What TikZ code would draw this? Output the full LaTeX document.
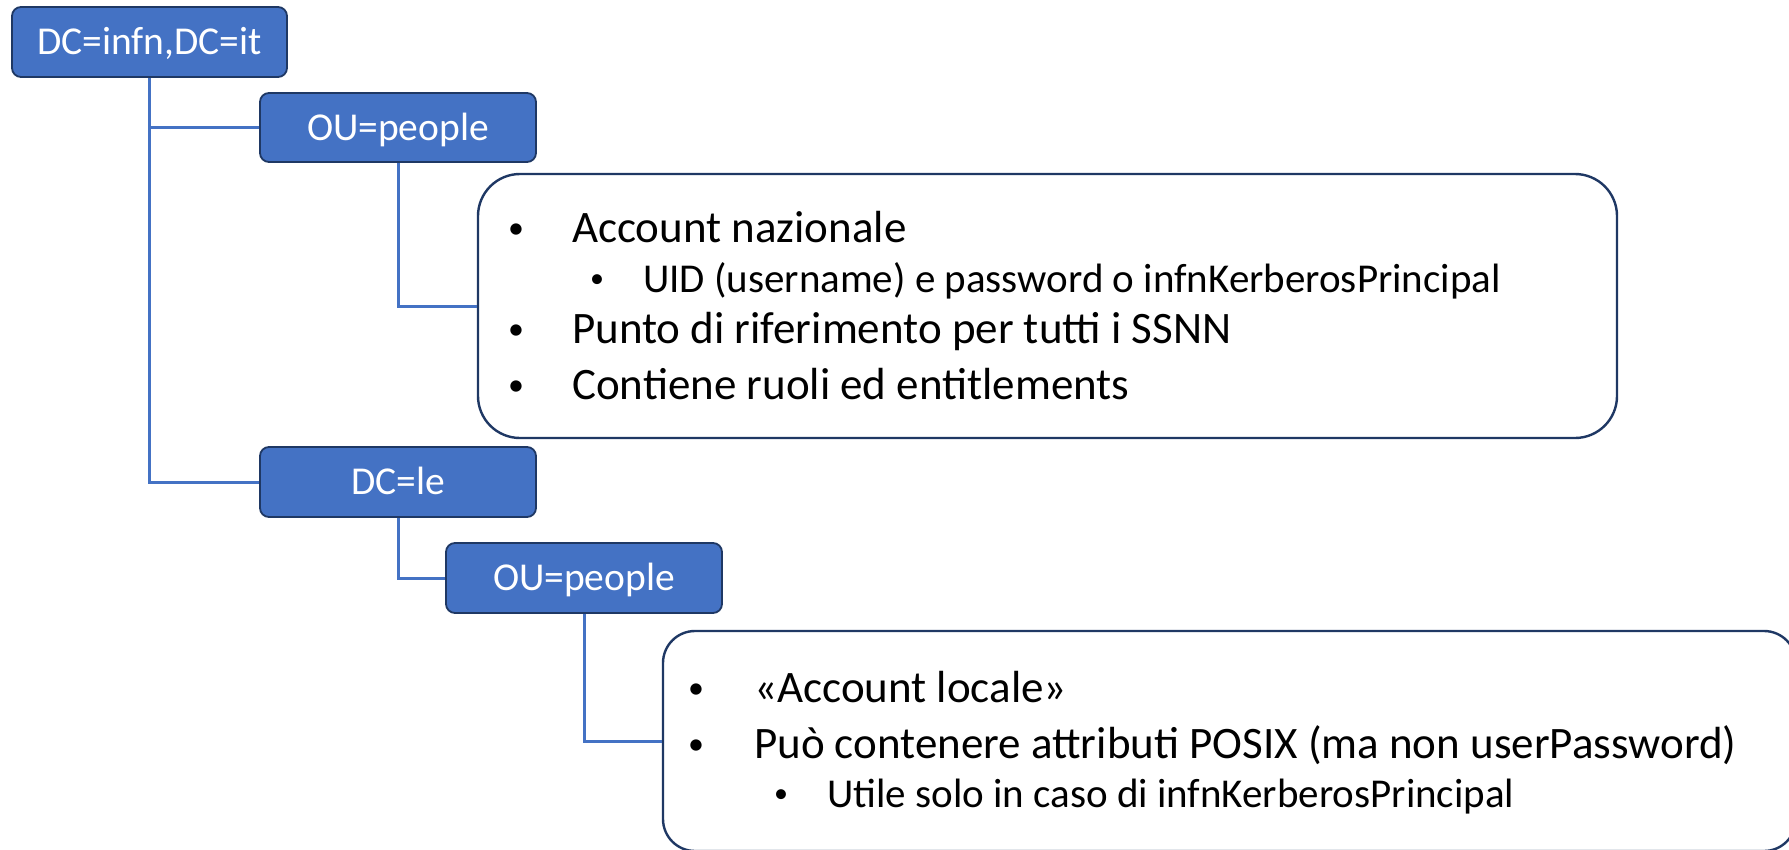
\documentclass[tikz,border=0pt]{standalone}
\usepackage{fontspec}
\setmainfont{Carlito}
\definecolor{boxblue}{HTML}{4472C4}
\definecolor{boxedge}{HTML}{1F3864}
\definecolor{linkblue}{HTML}{4472C4}
\definecolor{cardedge}{HTML}{1F3864}
\tikzset{
  tag/.style={draw=boxedge, line width=1.8pt, fill=boxblue, rounded corners=9pt,
    text=white, inner sep=0pt, minimum width=276pt, minimum height=70pt,
    text height=25pt, text depth=0pt, font=\fontsize{39.5}{47}\selectfont},
  card/.style={draw=cardedge, line width=2.4pt, fill=white, inner sep=0pt},
  link/.style={draw=linkblue, line width=3pt},
  mainline/.style={anchor=base west, inner sep=0pt, font=\fontsize{45}{54}\selectfont},
  subline/.style={anchor=base west, inner sep=0pt, font=\fontsize{41}{49}\selectfont},
  mainbul/.style={anchor=base, inner sep=0pt, yshift=3.5pt, font=\fontsize{32}{38}\selectfont},
  subbul/.style={anchor=base, inner sep=0pt, yshift=4.5pt, font=\fontsize{28}{34}\selectfont}
}
\begin{document}
\begin{tikzpicture}[x=1pt,y=-1pt]
\useasboundingbox (0,0) rectangle (1789,849);
% cards
\node[card, rounded corners=42pt, minimum width=1139pt, minimum height=264pt] (card1) at (1047.5,306) {};
\node[card, rounded corners=32pt, minimum width=1133pt, minimum height=220pt] (card2) at (1229.5,741) {};
% tags
\node[tag, minimum width=275pt] (root) at (149.5,42) {DC=infn,DC=it};
\node[tag, minimum height=69pt] (ou1) at (398,127.5) {OU=people};
\node[tag] (dcle) at (398,482) {DC=le};
\node[tag] (ou2) at (584,578) {OU=people};
% connectors
\draw[link] (root.south) |- (dcle.west);
\draw[link] (root.south |- ou1.west) -- (ou1.west);
\draw[link] (ou1.south) |- (card1.west);
\draw[link] (dcle.south) |- (ou2.west);
\draw[link] (ou2.south) |- (card2.west);
% card 1 text
\node[mainbul] (b11) at (516,242) {•};
\node[mainline] (t11) at (572,242) {Account nazionale};
\node[subbul] (b12) at (597,292) {•};
\node[subline] (t12) at (643,292) {UID (username) e password o infnKerberosPrincipal};
\node[mainbul] (b13) at (516,343) {•};
\node[mainline] (t13) at (572,343) {Punto di riferimento per tutti i SSNN};
\node[mainbul] (b14) at (516,399) {•};
\node[mainline] (t14) at (572,399) {Contiene ruoli ed entitlements};
% card 2 text
\node[mainbul] (b21) at (696,702) {•};
\node[mainline] (t21) at (754,702) {«Account locale»};
\node[mainbul] (b22) at (696,758) {•};
\node[mainline] (t22) at (754,758) {Può contenere attributi POSIX (ma non userPassword)};
\node[subbul] (b23) at (781,807) {•};
\node[subline] (t23) at (827,807) {Utile solo in caso di infnKerberosPrincipal};
\end{tikzpicture}
\end{document}
